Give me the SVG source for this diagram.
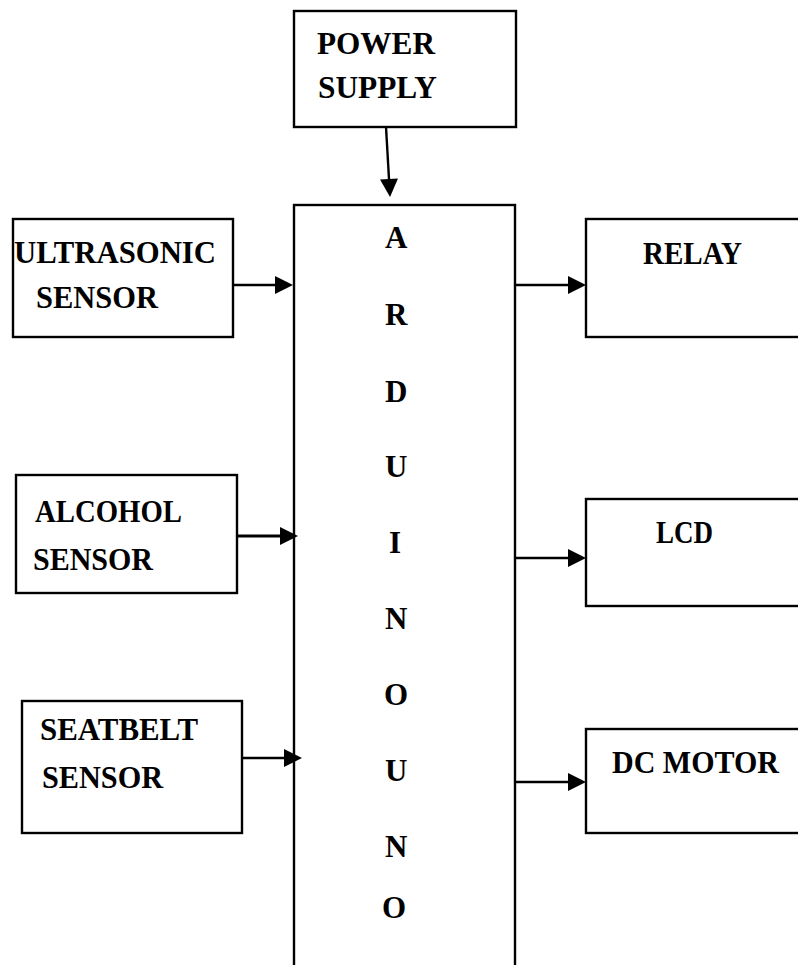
<svg xmlns="http://www.w3.org/2000/svg" width="798" height="965" viewBox="0 0 798 965">
  <style>
    .box { fill: #fff; stroke: #000; stroke-width: 2.4; }
    .lbl { font-family: "Liberation Serif", "Times New Roman", serif; font-weight: bold; font-size: 31px; fill: #000; }
    .conn { stroke: #000; stroke-width: 2.4; fill: none; }
  </style>
  <defs>
    <marker id="arr" markerUnits="userSpaceOnUse" markerWidth="19" markerHeight="19" refX="0" refY="9" orient="auto" overflow="visible">
      <path d="M0,0 L18,9 L0,18 Z" fill="#000"/>
    </marker>
  </defs>
  <rect width="798" height="965" fill="#fff"/>

  <g id="power-supply">
    <rect class="box" x="294" y="11" width="222" height="116"/>
    <text class="lbl" x="317" y="54" textLength="118" lengthAdjust="spacingAndGlyphs">POWER</text>
    <text class="lbl" x="318" y="98" textLength="119" lengthAdjust="spacingAndGlyphs">SUPPLY</text>
  </g>

  <g id="arduino-uno">
    <rect class="box" x="294" y="205" width="221" height="775"/>
    <text class="lbl" x="385" y="248">A</text>
    <text class="lbl" x="385" y="325">R</text>
    <text class="lbl" x="385" y="402">D</text>
    <text class="lbl" x="385" y="477">U</text>
    <text class="lbl" x="389" y="553">I</text>
    <text class="lbl" x="385" y="629">N</text>
    <text class="lbl" x="384" y="705">O</text>
    <text class="lbl" x="385" y="781">U</text>
    <text class="lbl" x="385" y="857">N</text>
    <text class="lbl" x="382" y="918">O</text>
  </g>

  <g id="ultrasonic-sensor">
    <rect class="box" x="13" y="219" width="220" height="118"/>
    <text class="lbl" x="14" y="263" textLength="202" lengthAdjust="spacingAndGlyphs">ULTRASONIC</text>
    <text class="lbl" x="36" y="308" textLength="122" lengthAdjust="spacingAndGlyphs">SENSOR</text>
  </g>

  <g id="alcohol-sensor">
    <rect class="box" x="16" y="475" width="221" height="118"/>
    <text class="lbl" x="35" y="522" textLength="147" lengthAdjust="spacingAndGlyphs">ALCOHOL</text>
    <text class="lbl" x="33" y="570" textLength="120" lengthAdjust="spacingAndGlyphs">SENSOR</text>
  </g>

  <g id="seatbelt-sensor">
    <rect class="box" x="22" y="701" width="220" height="132"/>
    <text class="lbl" x="40" y="740" textLength="158" lengthAdjust="spacingAndGlyphs">SEATBELT</text>
    <text class="lbl" x="42" y="788" textLength="121" lengthAdjust="spacingAndGlyphs">SENSOR</text>
  </g>

  <g id="relay">
    <rect class="box" x="586" y="219" width="230" height="118"/>
    <text class="lbl" x="643" y="264" textLength="99" lengthAdjust="spacingAndGlyphs">RELAY</text>
  </g>

  <g id="lcd">
    <rect class="box" x="586" y="499" width="230" height="107"/>
    <text class="lbl" x="656" y="543" textLength="57" lengthAdjust="spacingAndGlyphs">LCD</text>
  </g>

  <g id="dc-motor">
    <rect class="box" x="586" y="729" width="230" height="104"/>
    <text class="lbl" x="612" y="773" textLength="167" lengthAdjust="spacingAndGlyphs">DC MOTOR</text>
  </g>

  <g id="connectors">
    <path class="conn" d="M386,127 L389,179" marker-end="url(#arr)"/>
    <path class="conn" d="M233,285 L275,285" marker-end="url(#arr)"/>
    <path class="conn" d="M237,536 L280,536" marker-end="url(#arr)" style="stroke-width:3.2"/>
    <path class="conn" d="M242,758 L284,758" marker-end="url(#arr)"/>
    <path class="conn" d="M515,285 L568,285" marker-end="url(#arr)"/>
    <path class="conn" d="M515,558 L568,558" marker-end="url(#arr)"/>
    <path class="conn" d="M515,782 L568,782" marker-end="url(#arr)"/>
  </g>
</svg>
